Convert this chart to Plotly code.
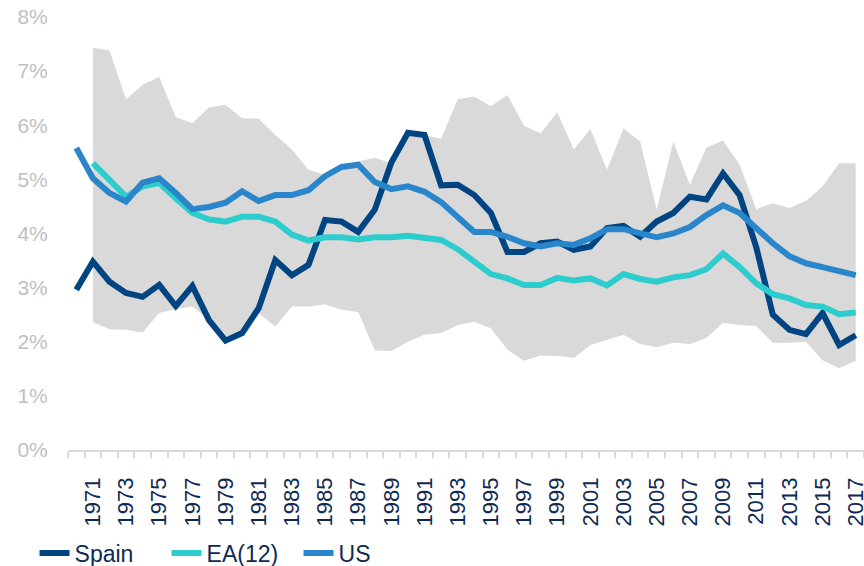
import plotly.graph_objects as go

years = list(range(1970, 2018))
band_years = list(range(1971, 2018))

spain = [2.96, 3.48, 3.11, 2.90, 2.83, 3.05, 2.66, 3.03, 2.40, 2.02,
         2.16, 2.62, 3.51, 3.23, 3.42, 4.25, 4.22, 4.03, 4.44, 5.31,
         5.86, 5.82, 4.89, 4.90, 4.71, 4.38, 3.66, 3.66, 3.82, 3.85,
         3.70, 3.76, 4.10, 4.14, 3.94, 4.22, 4.38, 4.68, 4.63, 5.11,
         4.71, 3.75, 2.50, 2.22, 2.14, 2.53, 1.94, 2.12]
ea12 = [None, 5.30, 4.99, 4.68, 4.87, 4.93, 4.65, 4.38, 4.26, 4.22,
        4.31, 4.31, 4.22, 3.98, 3.87, 3.93, 3.93, 3.89, 3.93, 3.93,
        3.96, 3.93, 3.88, 3.71, 3.48, 3.25, 3.17, 3.05, 3.05, 3.18,
        3.13, 3.17, 3.04, 3.25, 3.16, 3.11, 3.19, 3.23, 3.34, 3.63,
        3.38, 3.08, 2.88, 2.80, 2.68, 2.65, 2.51, 2.54]
us = [5.58, 5.02, 4.75, 4.59, 4.94, 5.02, 4.75, 4.45, 4.49, 4.57,
      4.78, 4.60, 4.71, 4.71, 4.80, 5.06, 5.23, 5.27, 4.95, 4.82,
      4.87, 4.77, 4.58, 4.31, 4.03, 4.03, 3.94, 3.82, 3.76, 3.82,
      3.79, 3.91, 4.08, 4.08, 4.00, 3.93, 4.00, 4.12, 4.34, 4.52,
      4.38, 4.10, 3.82, 3.58, 3.45, 3.38, 3.31, 3.23]

# range of the country values (grey band), 1971-2017
band_high = [7.43, 7.38, 6.48, 6.75, 6.89, 6.15, 6.04, 6.33, 6.38, 6.13,
             6.12, 5.82, 5.55, 5.18, 5.08, 5.24, 5.33, 5.40, 5.30, 5.80,
             5.82, 5.75, 6.48, 6.53, 6.35, 6.56, 5.99, 5.85, 6.24, 5.55,
             5.93, 5.18, 5.94, 5.70, 4.44, 5.70, 4.90, 5.59, 5.72, 5.27,
             4.45, 4.56, 4.47, 4.60, 4.87, 5.30, 5.30]
band_low = [2.36, 2.23, 2.22, 2.17, 2.53, 2.60, 2.65, 2.40, 2.05, 2.15,
            2.52, 2.28, 2.65, 2.65, 2.69, 2.59, 2.55, 1.84, 1.83, 2.00,
            2.13, 2.16, 2.31, 2.37, 2.25, 1.85, 1.65, 1.74, 1.74, 1.70,
            1.94, 2.03, 2.13, 1.96, 1.90, 1.98, 1.96, 2.07, 2.35, 2.31,
            2.29, 1.98, 1.98, 2.00, 1.66, 1.51, 1.65]

tick_years = list(range(1971, 2018, 2))

NAVY = "#004481"
AQUA = "#2dcccd"
BLUE = "#2a86ca"
TEXT = "#0f2a52"
GREY = "#bfbfbf"

fig = go.Figure()

fig.add_trace(go.Scatter(
    x=band_years, y=band_low, mode="lines", line=dict(width=0),
    showlegend=False, hoverinfo="skip",
))
fig.add_trace(go.Scatter(
    x=band_years, y=band_high, mode="lines", line=dict(width=0),
    fill="tonexty", fillcolor="#d9d9d9", showlegend=False, hoverinfo="skip",
))

for name, vals, color in [("Spain", spain, NAVY), ("EA(12)", ea12, AQUA), ("US", us, BLUE)]:
    fig.add_trace(go.Scatter(
        x=years, y=vals, name=name, mode="lines",
        line=dict(color=color, width=6),
    ))

fig.update_xaxes(
    range=[1969.5, 2017.5], automargin=False, ticklabeloverflow="allow",
    tickmode="array", tickvals=tick_years, ticktext=[str(y) for y in tick_years],
    tickangle=-90, tickfont=dict(family="Liberation Sans, Arial", size=22, color=TEXT),
    ticks="outside", ticklen=17, tickcolor="rgba(0,0,0,0)",
    showgrid=False, zeroline=False,
    showline=True, linecolor="#d9d9d9", linewidth=1.5,
    minor=dict(ticks="outside", tickmode="linear", tick0=1969.5, dtick=1,
               ticklen=6, tickcolor="#d9d9d9", tickwidth=1.5, showgrid=False),
)
fig.update_yaxes(
    range=[0, 8], dtick=1, tickformat=".0f", ticksuffix="%", automargin=False,
    tickfont=dict(family="Liberation Sans, Arial", size=21, color=GREY),
    ticks="outside", ticklen=15, tickcolor="rgba(0,0,0,0)",
    showgrid=False, zeroline=False, showline=False,
)

fig.update_layout(
    width=864, height=566,
    margin=dict(l=68, r=0, t=17, b=116, autoexpand=False),
    plot_bgcolor="white", paper_bgcolor="white",
    legend=dict(
        orientation="h", xref="container", yref="container",
        x=0.04, y=0.023, xanchor="left", yanchor="middle",
        traceorder="normal",
        font=dict(family="Liberation Sans, Arial", size=23, color=TEXT),
        itemwidth=30, entrywidth=87, tracegroupgap=0,
    ),
)

fig.write_html("out.html", config={"displayModeBar": False},
               post_script="document.body.style.margin='0';")
